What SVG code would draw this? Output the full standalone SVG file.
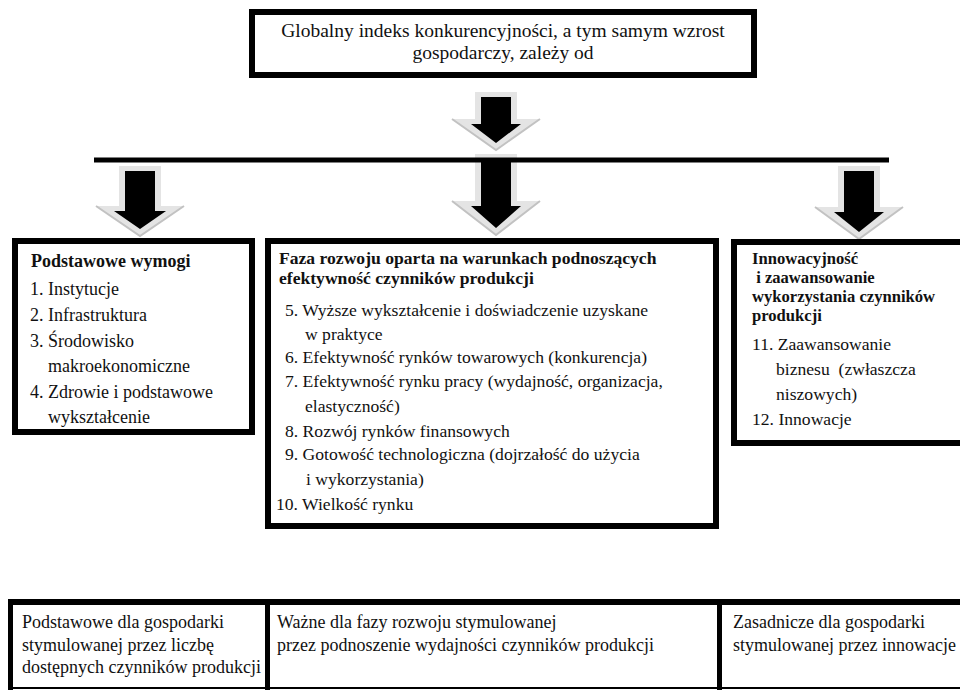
<svg xmlns="http://www.w3.org/2000/svg" width="960" height="690" viewBox="0 0 960 690">
<style>
text{font-family:"Liberation Serif","Times New Roman",serif;fill:#111}
.box{fill:#fff;stroke:#000;stroke-width:6}
.t{font-size:19.5px}
.l{font-size:18px}
.m{font-size:17.6px}
.h{font-size:16.6px}
.b{font-weight:bold}
.ga{fill:#e4e4e4}
.gb{fill:none;stroke:#c2c2c2;stroke-width:2}
.ba{fill:#000}
.bar{stroke:#000;stroke-width:5}
.tb{stroke:#000}
</style>
<rect width="960" height="690" fill="#fff"/>
<g id="top">
<rect class="box" x="252" y="12" width="502" height="63"/>
<text class="t" x="503" y="37" text-anchor="middle">Globalny indeks konkurencyjności, a tym samym wzrost</text>
<text class="t" x="503" y="59" text-anchor="middle">gospodarczy, zależy od</text>
</g>
<g id="connectors">
<polygon class="ga" points="475,92 517,92 517,119 540,119 496,150 452,119 475,119"/>
<polyline class="gb" points="452,119 496,150 540,119"/>
<polygon class="ba" points="481,97 511,97 511,124 521,124 496,143 471,124 481,124"/>
<polygon class="ga" points="475,154 517,154 517,201 540,201 496,235 452,201 475,201"/>
<polyline class="gb" points="452,201 496,235 540,201"/>
<line class="bar" x1="94" y1="160" x2="889" y2="160"/>
<polygon class="ba" points="481,160 511,160 511,206 521,206 496,228 471,206 481,206"/>
<polygon class="ga" points="119,166 161,166 161,206 184,206 140,236 96,206 119,206"/>
<polyline class="gb" points="96,206 140,236 184,206"/>
<polygon class="ba" points="125,171 155,171 155,211 166,211 140,229 114,211 125,211"/>
<polygon class="ga" points="838,166 880,166 880,207 903,207 859,239 815,207 838,207"/>
<polyline class="gb" points="815,207 859,239 903,207"/>
<polygon class="ba" points="844,171 874,171 874,212 884,212 859,232 834,212 844,212"/>
</g>
<g id="basic">
<rect class="box" x="15" y="241" width="237" height="191"/>
<text class="l b" x="31" y="267">Podstawowe wymogi</text>
<text class="l" x="30" y="295">1. Instytucje</text>
<text class="l" x="30" y="321">2. Infrastruktura</text>
<text class="l" x="30" y="347">3. Środowisko</text>
<text class="l" x="48" y="372">makroekonomiczne</text>
<text class="l" x="30" y="398">4. Zdrowie i podstawowe</text>
<text class="l" x="48" y="423">wykształcenie</text>
</g>
<g id="efficiency">
<rect class="box" x="268" y="241" width="448" height="285"/>
<text class="m b" x="279" y="264">Faza rozwoju oparta na warunkach podnoszących</text>
<text class="m b" x="279" y="284">efektywność czynników produkcji</text>
<text class="m" x="285" y="316">5. Wyższe wykształcenie i doświadczenie uzyskane</text>
<text class="m" x="305" y="340">w praktyce</text>
<text class="m" x="285" y="363">6. Efektywność rynków towarowych (konkurencja)</text>
<text class="m" x="285" y="387">7. Efektywność rynku pracy (wydajność, organizacja,</text>
<text class="m" x="305" y="412">elastyczność)</text>
<text class="m" x="285" y="437">8. Rozwój rynków finansowych</text>
<text class="m" x="285" y="460">9. Gotowość technologiczna (dojrzałość do użycia</text>
<text class="m" x="306" y="485">i wykorzystania)</text>
<text class="m" x="276" y="510">10. Wielkość rynku</text>
</g>
<g id="innovation">
<rect class="box" x="734" y="242" width="240" height="201"/>
<text class="h b" x="752" y="264">Innowacyjność</text>
<text class="h b" x="752" y="283" xml:space="preserve"> i zaawansowanie</text>
<text class="h b" x="752" y="302">wykorzystania czynników</text>
<text class="h b" x="752" y="321">produkcji</text>
<text class="m" x="752" y="350">11. Zaawansowanie</text>
<text class="m" x="776" y="375" xml:space="preserve">biznesu  (zwłaszcza</text>
<text class="m" x="776" y="400">niszowych)</text>
<text class="m" x="752" y="425">12. Innowacje</text>
</g>
<g id="table">
<line class="tb" x1="8" y1="602" x2="960" y2="602" stroke-width="6"/>
<line class="tb" x1="8" y1="688" x2="960" y2="688" stroke-width="2"/>
<line class="tb" x1="10.5" y1="599" x2="10.5" y2="690" stroke-width="5"/>
<line class="tb" x1="267.5" y1="599" x2="267.5" y2="690" stroke-width="5"/>
<line class="tb" x1="719.5" y1="599" x2="719.5" y2="690" stroke-width="5"/>
</g>
<g id="cell1">
<text class="l" x="22" y="628">Podstawowe dla gospodarki</text>
<text class="l" x="22" y="651">stymulowanej przez liczbę</text>
<text class="l" x="22" y="673">dostępnych czynników produkcji</text>
</g>
<g id="cell2">
<text class="l" x="277" y="628">Ważne dla fazy rozwoju stymulowanej</text>
<text class="l" x="277" y="651">przez podnoszenie wydajności czynników produkcji</text>
</g>
<g id="cell3">
<text class="l" x="733" y="628">Zasadnicze dla gospodarki</text>
<text class="l" x="733" y="651">stymulowanej przez innowacje</text>
</g>
</svg>
